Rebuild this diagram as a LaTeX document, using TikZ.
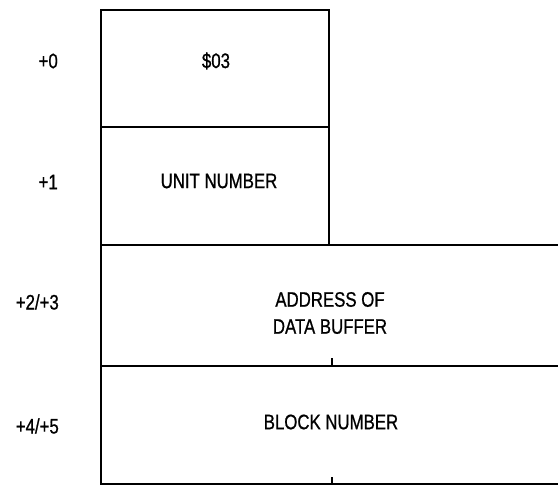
\documentclass[tikz,border=0pt]{standalone}
\usepackage{fontspec}
\setmainfont{Liberation Sans}[FakeStretch=0.8,FakeBold=0.8]
\begin{document}
\begin{tikzpicture}[x=1pt,y=-1pt,
  frame/.style={line width=2pt,line cap=rect},
  tick/.style={line width=1.7pt},
  field/.style={font=\fontsize{21}{27}\selectfont,align=center,inner sep=0pt},
  offs/.style={font=\fontsize{21}{27}\selectfont,anchor=east,inner sep=0pt}]
\useasboundingbox (0,0) rectangle (558,486);
% frame coordinates
\coordinate (tl) at (101,10);
\coordinate (tr) at (329,10);
\coordinate (r1) at (329,127);
\coordinate (l1) at (101,127);
\coordinate (l2) at (101,245);
\coordinate (r2) at (558,245);
\coordinate (l3) at (101,366);
\coordinate (r3) at (558,366);
\coordinate (l4) at (101,484);
\coordinate (r4) at (558,484);
\coordinate (t3) at (332,366);
\coordinate (t3u) at (332,358);
\coordinate (t4) at (332,484);
\coordinate (t4u) at (332,477);
% outlines
\draw[frame] (l4) -- (tl) -- (tr) -- (r1 |- l2);
\draw[frame] (l1) -- (r1);
\draw[frame] (l2) -- (r2);
\draw[frame] (l3) -- (r3);
\draw[frame] (l4) -- (r4);
\draw[tick] (t3) -- (t3u);
\draw[tick] (t4) -- (t4u);
% field texts
\node[field] (f0) at (216,61) {\$03};
\node[field] (f1) at (219,181) {UNIT NUMBER};
\node[field] (f2) at (330,313) {ADDRESS OF\\DATA BUFFER};
\node[field] (f3) at (331,422) {BLOCK NUMBER};
% offsets
\node[offs] (o0) at (58,61) {+0};
\node[offs] (o1) at (58,182) {+1};
\node[offs] (o2) at (59,302) {+2/+3};
\node[offs] (o3) at (59,426) {+4/+5};
\end{tikzpicture}
\end{document}
